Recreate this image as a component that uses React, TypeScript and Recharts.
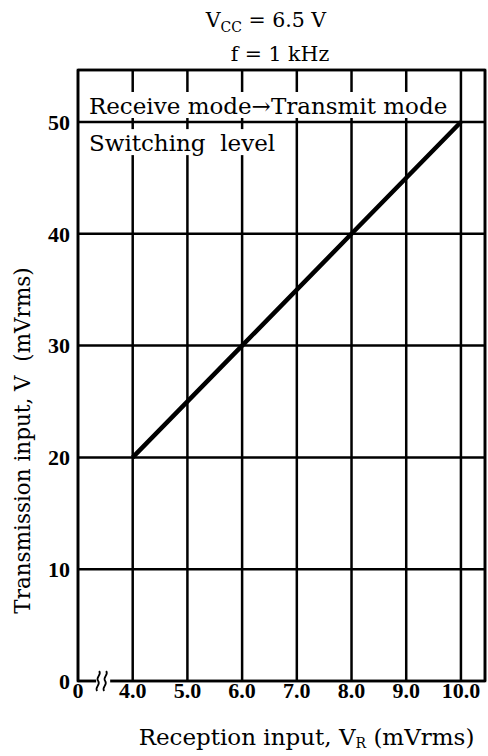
import React from 'react';
import { LineChart, Line, XAxis, YAxis, CartesianGrid, ReferenceArea, ReferenceDot, Label } from 'recharts';

// Switching level: reception input V_R (mVrms) vs transmission input V (mVrms)
const receptionInput = [4.0, 6.0, 8.0, 10.0];
const transmissionInput = [20, 30, 40, 50];

// the x axis is broken between 0 and 4.0, so 3 stands in for the "0" tick
const xTicks = [3, 4, 5, 6, 7, 8, 9, 10];
const yTicks = [0, 10, 20, 30, 40, 50];
const X_MIN = 3;
const X_MAX = 10.44;
const Y_MAX = 54.65;

const data = receptionInput.map((x, i) => ({ x, y: transmissionInput[i] }));

const FONT = '"DejaVu Serif", "Liberation Serif", serif';
const TICK_FONT = '"Liberation Serif", serif';

// text printed on the grid with a white box behind it
const Note = ({ cx, cy, text, boxWidth }: any) => (
  <g>
    <rect x={cx - 5} y={cy - 13} width={boxWidth} height={26} fill="#fff" />
    <text x={cx} y={cy + 1} dominantBaseline="central" fontSize={23} fontFamily={FONT} fill="#000">
      {text}
    </text>
  </g>
);

// axis break symbol on the bottom axis
const BreakMark = ({ cx, cy }: any) => (
  <g>
    <rect x={cx - 7} y={cy - 4} width={14} height={8} fill="#fff" />
    <path d={`M${cx - 6},${cy + 10} c-3,-4 4,-6 1,-10 c-3,-4 4,-6 1,-10`} fill="none" stroke="#000" strokeWidth={1.8} />
    <path d={`M${cx + 1},${cy + 10} c-3,-4 4,-6 1,-10 c-3,-4 4,-6 1,-10`} fill="none" stroke="#000" strokeWidth={1.8} />
  </g>
);

const YTitle = ({ viewBox }: any) => {
  const x = viewBox.x + 22;
  const y = viewBox.y + viewBox.height / 2 + 65;
  return (
    <text x={x} y={y} transform={`rotate(-90 ${x} ${y})`} textAnchor="middle" dominantBaseline="central" fontSize={21.5} fontFamily={FONT} fill="#000">
      Transmission input, V{'\u00a0\u00a0'}(mVrms)
    </text>
  );
};

const XTitle = ({ viewBox }: any) => {
  const x = viewBox.x + viewBox.width / 2 + 25;
  const y = viewBox.y + 56;
  return (
    <text x={x} y={y} textAnchor="middle" dominantBaseline="central" fontSize={23} fontFamily={FONT} fill="#000">
      Reception input, V<tspan dy={6} fontSize={14}>R</tspan><tspan dy={-6}> (mVrms)</tspan>
    </text>
  );
};

export default function App() {
  return (
    <div style={{ position: 'absolute', left: 0, top: 0, width: 488, height: 756, background: '#fff' }}>
      <div style={{ position: 'absolute', left: 0, top: 7, width: 488, textAlign: 'center', fontFamily: FONT, fontSize: 20.5, lineHeight: '27px' }}>
        <div style={{ marginLeft: 44 }}>
          V<sub style={{ fontSize: 14 }}>CC</sub> = 6.5 V
        </div>
        <div style={{ marginLeft: 72 }}>f = 1 kHz</div>
      </div>
      <div style={{ position: 'absolute', left: 0, top: 0 }}>
        <LineChart width={488} height={756} data={data} margin={{ top: 70, right: 3, bottom: 0, left: 0 }}>
          <CartesianGrid stroke="#000" strokeWidth={2.5} />
          <XAxis
            type="number"
            dataKey="x"
            domain={[X_MIN, X_MAX]}
            ticks={xTicks}
            allowDataOverflow
            height={75}
            axisLine={false}
            tickLine={false}
            tickSize={0}
            tickMargin={1}
            tickFormatter={(v: number) => (v === X_MIN ? '0' : v.toFixed(1))}
            tick={{ fontFamily: TICK_FONT, fontWeight: 'bold', fontSize: 22, fill: '#000' }}
          >
            <Label content={XTitle} />
          </XAxis>
          <YAxis
            type="number"
            domain={[0, Y_MAX]}
            ticks={yTicks}
            allowDataOverflow
            width={78}
            axisLine={false}
            tickLine={false}
            tickSize={0}
            tickMargin={8}
            tick={{ fontFamily: TICK_FONT, fontWeight: 'bold', fontSize: 22, fill: '#000' }}
          >
            <Label content={YTitle} />
          </YAxis>
          <ReferenceArea x1={X_MIN} x2={X_MAX} y1={0} y2={Y_MAX} fill="none" stroke="#000" strokeWidth={2.6} />
          <Line type="linear" dataKey="y" stroke="#000" strokeWidth={4.5} dot={false} isAnimationActive={false} />
          <ReferenceDot x={3.2} y={51.52} shape={(p: any) => <Note {...p} text="Receive mode→Transmit mode" boxWidth={372} />} />
          <ReferenceDot x={3.2} y={48.2} shape={(p: any) => <Note {...p} text={'Switching\u00a0\u00a0level'} boxWidth={200} />} />
          <ReferenceDot x={3.46} y={0} shape={(p: any) => <BreakMark {...p} />} />
        </LineChart>
      </div>
    </div>
  );
}
